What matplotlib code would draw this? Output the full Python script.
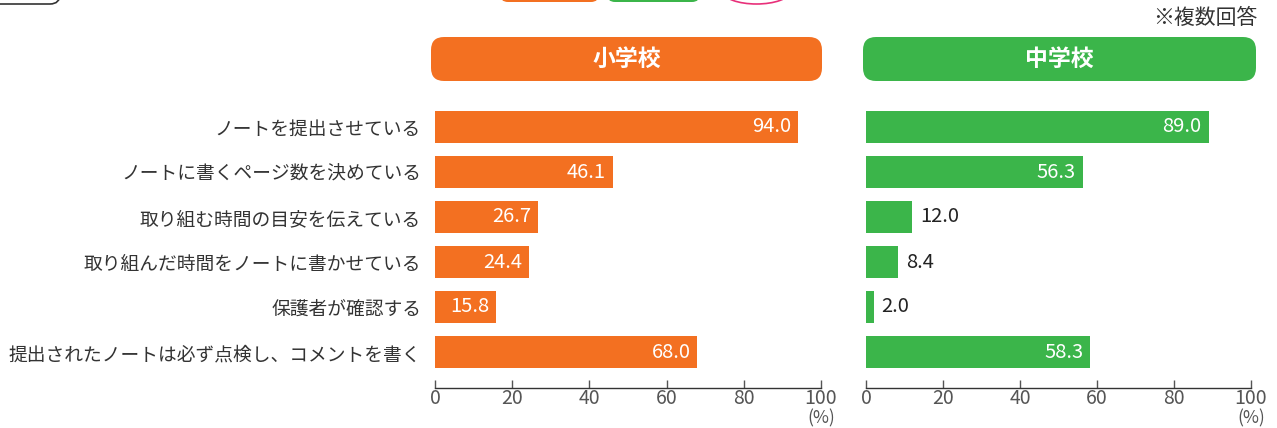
import matplotlib
matplotlib.use("Agg")
import matplotlib.pyplot as plt
from matplotlib.patches import FancyBboxPatch, Ellipse

plt.rcParams['font.family'] = ['Noto Sans CJK JP', 'DejaVu Sans']

categories = ["ノートを提出させている", "ノートに書くページ数を決めている", "取り組む時間の目安を伝えている",
              "取り組んだ時間をノートに書かせている", "保護者が確認する", "提出されたノートは必ず点検し、コメントを書く"]
elementary = [94.0, 46.1, 26.7, 24.4, 15.8, 68.0]
junior = [89.0, 56.3, 12.0, 8.4, 2.0, 58.3]
panel_titles = ["小学校", "中学校"]
xticks = [0, 20, 40, 60, 80, 100]

ORANGE = "#F37021"
GREEN = "#3BB54A"
TEXT = "#333333"

W, H = 1277, 428
fig = plt.figure(figsize=(W / 100, H / 100), dpi=100)

def px_axes(x0, x1, ytop, ybot):
    return [x0 / W, 1 - ybot / H, (x1 - x0) / W, (ybot - ytop) / H]

axes = [fig.add_axes(px_axes(435, 821, 100, 388)), fig.add_axes(px_axes(866, 1251, 100, 388))]
colors = [ORANGE, GREEN]
data = [elementary, junior]

for ax, vals, col in zip(axes, data, colors):
    ypos = list(range(len(categories)))
    ax.barh(ypos, vals, height=0.73, color=col, edgecolor='none')
    ax.set_xlim(0, 100)
    ax.set_ylim(5.8, -0.6)
    for s in ['top', 'right', 'left']:
        ax.spines[s].set_visible(False)
    ax.spines['bottom'].set_color('#333333')
    ax.spines['bottom'].set_linewidth(1.0)
    ax.set_xticks(xticks)
    ax.set_xticklabels([str(t) for t in xticks])
    ax.tick_params(axis='x', direction='in', length=6, width=1.0, color='#555555',
                   labelsize=14, labelcolor='#555555', pad=0)
    ax.set_yticks(ypos)
    ax.tick_params(axis='y', length=0)
    ax.text(100, -0.075, "(%)", transform=ax.get_xaxis_transform(), ha='center', va='top',
            fontsize=12.5, color='#555555')
    for y, v in zip(ypos, vals):
        if v >= 15:
            ax.text(v - 1.8, y, f"{v:.1f}", ha='right', va='center', color='white', fontsize=14.5)
        else:
            ax.text(v + 2.0, y, f"{v:.1f}", ha='left', va='center', color='#222222', fontsize=14.5)

axes[0].set_yticklabels(categories, fontsize=13.5, color=TEXT)
axes[0].tick_params(axis='y', pad=10)
axes[1].set_yticklabels([])

# Header boxes (pixel positions converted to inches)
def header(x0, x1, y0, y1, color, label):
    box = FancyBboxPatch((x0 / 100, (H - y1) / 100), (x1 - x0) / 100, (y1 - y0) / 100,
                         boxstyle="round,pad=0,rounding_size=0.13", transform=fig.dpi_scale_trans,
                         facecolor=color, edgecolor='none')
    fig.patches.append(box)
    fig.text(((x0 + x1) / 2) / W, 1 - ((y0 + y1) / 2) / H, label, ha='center', va='center',
             color='white', fontsize=16.5, fontweight='bold')

header(431, 822, 37, 81, ORANGE, panel_titles[0])
header(863, 1256, 37, 81, GREEN, panel_titles[1])

fig.text(1257 / W, 1 - 18 / H, "※複数回答", ha='right', va='center', fontsize=15, color=TEXT)

# Cut-off decorations at the top edge
fig.patches.append(FancyBboxPatch((-0.3, (H - 4) / 100), 0.9, 0.3,
                                  boxstyle="round,pad=0,rounding_size=0.1", transform=fig.dpi_scale_trans,
                                  facecolor='white', edgecolor='#333333', linewidth=1.2))
fig.patches.append(FancyBboxPatch((5.0, (H - 2) / 100), 0.99, 0.3,
                                  boxstyle="round,pad=0,rounding_size=0.08", transform=fig.dpi_scale_trans,
                                  facecolor=ORANGE, edgecolor='none'))
fig.patches.append(FancyBboxPatch((6.07, (H - 2) / 100), 0.93, 0.3,
                                  boxstyle="round,pad=0,rounding_size=0.08", transform=fig.dpi_scale_trans,
                                  facecolor=GREEN, edgecolor='none'))
fig.patches.append(Ellipse((7.565, (H + 8) / 100), 0.66, 0.24, transform=fig.dpi_scale_trans,
                           facecolor='white', edgecolor='#E8307A', linewidth=1.2))

fig.savefig("out.png", dpi=100)
